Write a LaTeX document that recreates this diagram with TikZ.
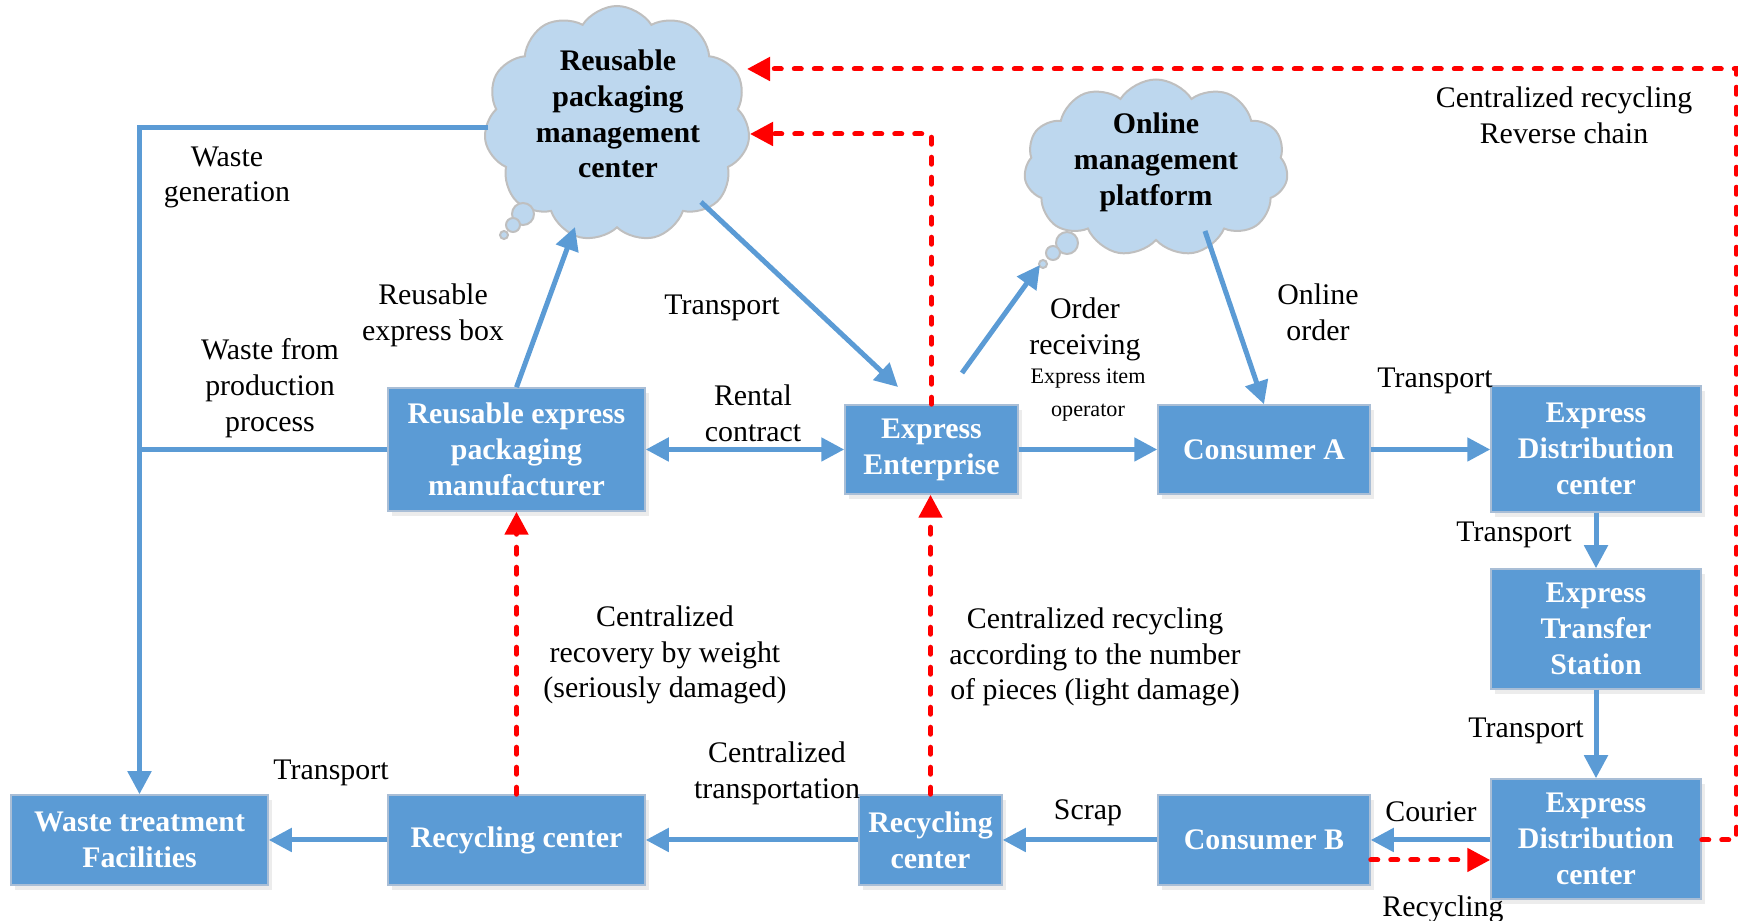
\documentclass[tikz,border=0pt]{standalone}
\usepackage{fontspec}
\setmainfont{Liberation Serif}
\usetikzlibrary{shapes.symbols,arrows.meta,shadows}
\definecolor{boxblue}{HTML}{5B9BD5}
\definecolor{cloudblue}{HTML}{BDD7EE}
\definecolor{cloudedge}{HTML}{BFBFBF}
\definecolor{boxedge}{HTML}{A9BED6}

\begin{document}
\begin{tikzpicture}[x=0.1mm,y=-0.1mm,
    >={Triangle[length=2.3mm,width=2.3mm]},
    box/.style={rectangle,fill=boxblue,draw=boxedge,line width=0.15mm,text=white,
        font=\fontsize{8.5}{10.2}\selectfont\bfseries,align=center,inner sep=0pt,
        drop shadow={shadow xshift=0.4mm,shadow yshift=-0.5mm,opacity=0.15,fill=gray}},
    thought/.style={cloud,cloud puffs=11,cloud puff arc=115,aspect=1.1,fill=cloudblue,
        draw=cloudedge,line width=0.2mm,inner sep=0pt},
    thoughttext/.style={font=\fontsize{8.5}{10.2}\selectfont\bfseries,align=center,inner sep=0pt},
    bubble/.style={fill=cloudblue,draw=cloudedge,line width=0.2mm},
    lbl/.style={font=\fontsize{8.5}{10.2}\selectfont,align=center,inner sep=0pt,yshift=-0.3mm},
    flow/.style={draw=boxblue,line width=0.5mm,->},
    flowline/.style={draw=boxblue,line width=0.5mm},
    back/.style={draw=red,line width=0.5mm,line cap=round,dash pattern=on 0.7mm off 1.3mm,->}]
    \useasboundingbox (0,0) rectangle (1738,921);

    % boxes
    \node[box,minimum width=25.7mm,minimum height=9mm] (waste) at (139.5,840) {Waste treatment\\Facilities};
    \node[box,minimum width=25.7mm,minimum height=9mm] (rec) at (516.5,840) {Recycling center};
    \node[box,minimum width=14.3mm,minimum height=9mm] (recS) at (930.5,840) {Recycling\\center};
    \node[box,minimum width=21.2mm,minimum height=9mm] (conB) at (1264,840) {Consumer B};
    \node[box,minimum width=21mm,minimum height=12mm] (distB) at (1596,839) {Express\\Distribution\\center};
    \node[box,minimum width=21mm,minimum height=12mm] (trans) at (1596,629) {Express\\Transfer\\Station};
    \node[box,minimum width=21mm,minimum height=12.6mm] (distT) at (1596,449) {Express\\Distribution\\center};
    \node[box,minimum width=21.2mm,minimum height=8.9mm] (conA) at (1264,449.5) {Consumer A};
    \node[box,minimum width=17.3mm,minimum height=8.9mm] (ent) at (931.5,449.5) {Express\\Enterprise};
    \node[box,minimum width=25.7mm,minimum height=12.3mm] (mfr) at (516.5,449.5) {Reusable express\\packaging\\manufacturer};

    % clouds
    \node[thought,minimum width=26.6mm,minimum height=23.6mm] (center) at (617,124) {};
    \node[thoughttext] (centertext) at (618,114) {Reusable\\packaging\\management\\center};
    \draw[bubble] (523,214) circle (1.1mm);
    \draw[bubble] (513,225) circle (0.7mm);
    \draw[bubble] (504,235) circle (0.4mm);
    \node[thought,minimum width=26.4mm,minimum height=17.7mm] (platform) at (1156,168) {};
    \node[thoughttext] (platformtext) at (1156,162) {Online\\management\\platform};
    \draw[bubble] (1067,243) circle (1.1mm);
    \draw[bubble] (1053,253) circle (0.7mm);
    \draw[bubble] (1043,264) circle (0.4mm);

    % labels
    \node[lbl] (lgen) at (227,174.5) {Waste\\generation};
    \node[lbl] (lbox) at (433,312) {Reusable\\express box};
    \node[lbl] (lprod) at (270,385) {Waste from\\production\\process};
    \node[lbl] (ltrA) at (722,305) {Transport};
    \node[lbl] (lrent) at (753,410) {Rental\\contract};
    \node[lbl] (lorder) at (1085,326) {Order\\receiving};
    \node[lbl,font=\fontsize{6.3}{9.4}\selectfont] (loper) at (1088,392) {Express item\\operator};
    \node[lbl] (lonline) at (1318,309) {Online\\order};
    \node[lbl] (ltrB) at (1435,378) {Transport};
    \node[lbl] (lrev) at (1564,112) {Centralized recycling\\Reverse chain};
    \node[lbl] (ltrC) at (1514,532) {Transport};
    \node[lbl] (ltrD) at (1526,728) {Transport};
    \node[lbl] (lcour) at (1431,809) {Courier};
    \node[lbl] (lrecy) at (1443,906) {Recycling};
    \node[lbl] (lscrap) at (1088,810) {Scrap};
    \node[lbl] (lctr) at (777,770) {Centralized\\transportation};
    \node[lbl] (ltrE) at (331,770) {Transport};
    \node[lbl] (lweight) at (665,652) {Centralized\\recovery by weight\\(seriously damaged)};
    \node[lbl] (lpieces) at (1095,654) {Centralized recycling\\according to the number\\of pieces (light damage)};

    % blue flows
    \coordinate (genstart) at (488,128);
    \coordinate (gencorner) at (139.5,128);
    \draw[flow] (genstart) -- (gencorner) -- (waste.north);
    \draw[flowline] (mfr.west) -- (mfr.west -| gencorner);
    \coordinate (boxin) at (575,227);
    \draw[flow] (mfr.north) -- (boxin);
    \coordinate (trout) at (701,202);
    \coordinate (trin) at (898,387);
    \draw[flow] (trout) -- (trin);
    \draw[flow,<->] (mfr.east) -- (ent.west);
    \coordinate (ordout) at (962,373);
    \coordinate (ordin) at (1040,265);
    \draw[flow] (ordout) -- (ordin);
    \coordinate (onlout) at (1205,231);
    \draw[flow] (onlout) -- (conA.north);
    \draw[flow] (ent.east) -- (conA.west);
    \draw[flow] (conA.east) -- (conA.east -| distT.west);
    \draw[flow] (distT.south) -- (trans.north);
    \draw[flow] (trans.south) -- (distB.north);
    \draw[flow] (distB.west |- conB.east) -- (conB.east);
    \draw[flow] (conB.west) -- (recS.east);
    \draw[flow] (recS.west) -- (rec.east);
    \draw[flow] (rec.west) -- (waste.east);

    % red recycling
    \draw[back] (rec.north) -- (mfr.south);
    \draw[back] (recS.north) -- (recS.north |- ent.south);
    \coordinate (revinA) at (750,134);
    \draw[back] (ent.north) -- (ent.north |- revinA) -- (revinA);
    \coordinate (revright) at (1736,69);
    \coordinate (revinB) at (747,69);
    \draw[back] (distB.east |- conB.east) -- (conB.east -| revright) -- (revright) -- (revinB);
    \draw[back] ([yshift=-2mm]conB.east) -- ([yshift=-2mm]conB.east -| distB.west);
\end{tikzpicture}
\end{document}
